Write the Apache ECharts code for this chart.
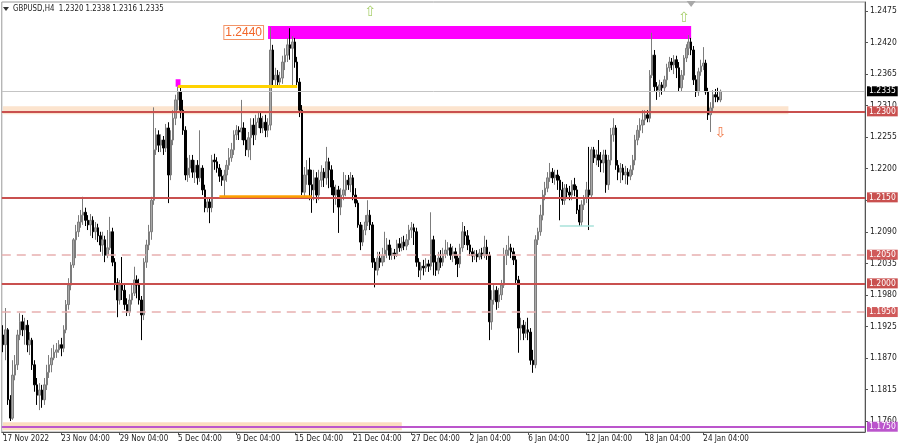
<!DOCTYPE html>
<html><head><meta charset="utf-8">
<script src="https://cdn.jsdelivr.net/npm/echarts@6/dist/echarts.min.js"></script>
<style>html,body{margin:0;padding:0;background:#fff}#c{width:900px;height:444px}</style>
</head><body><div id="c"></div>
<script>
// ---- data (GBPUSD H4) ----
const symbolName = 'GBPUSD,H4';
const tickLabels = ["17 Nov 2022","23 Nov 04:00","29 Nov 04:00","5 Dec 04:00","9 Dec 04:00","15 Dec 04:00","21 Dec 04:00","27 Dec 04:00","2 Jan 04:00","6 Jan 04:00","12 Jan 04:00","18 Jan 04:00","24 Jan 04:00"];
const barsPerLabel = 24;
const totalSlots = 355;

const opens = [1.1910,1.1893,1.1919,1.1797,1.1765,1.1840,1.1858,1.1910,1.1933,1.1919,
1.1927,1.1893,1.1901,1.1858,1.1823,1.1805,1.1814,1.1797,1.1823,1.1845,
1.1858,1.1870,1.1880,1.1884,1.1893,1.1887,1.1919,1.1963,1.1997,1.2032,
1.2076,1.2090,1.2107,1.2119,1.2124,1.2110,1.2102,1.2110,1.2090,1.2097,
1.2083,1.2067,1.2076,1.2049,1.2062,1.2090,1.2037,1.2001,1.1971,1.1997,
1.1988,1.1963,1.1950,1.1971,1.1983,1.2006,1.1997,1.1971,1.1945,1.2037,
1.2067,1.2090,1.2145,1.2233,1.2259,1.2241,1.2250,1.2236,1.2271,1.2189,
1.2250,1.2288,1.2320,1.2334,1.2302,1.2267,1.2189,1.2201,1.2215,1.2194,
1.2206,1.2184,1.2201,1.2163,1.2132,1.2142,1.2132,1.2215,1.2212,1.2201,
1.2187,1.2180,1.2189,1.2206,1.2219,1.2233,1.2259,1.2267,1.2264,1.2271,
1.2250,1.2233,1.2254,1.2276,1.2259,1.2281,1.2288,1.2271,1.2281,1.2267,
1.2276,1.2407,1.2355,1.2363,1.2351,1.2358,1.2386,1.2398,1.2416,1.2410,
1.2421,1.2386,1.2351,1.2302,1.2159,1.2189,1.2198,1.2172,1.2163,1.2184,
1.2154,1.2180,1.2194,1.2184,1.2212,1.2198,1.2168,1.2154,1.2163,1.2133,
1.2154,1.2163,1.2180,1.2172,1.2184,1.2154,1.2140,1.2102,1.2072,1.2093,
1.2107,1.2119,1.2102,1.2037,1.2023,1.2044,1.2037,1.2049,1.2058,1.2067,
1.2049,1.2053,1.2049,1.2069,1.2062,1.2072,1.2065,1.2076,1.2093,1.2097,
1.2090,1.2037,1.2023,1.2030,1.2027,1.2034,1.2030,1.2076,1.2037,1.2023,
1.2044,1.2037,1.2051,1.2058,1.2062,1.2049,1.2055,1.2044,1.2034,1.2062,
1.2090,1.2083,1.2067,1.2055,1.2048,1.2051,1.2046,1.2053,1.2049,1.2063,
1.2049,1.1933,1.1971,1.1988,1.1968,1.1980,1.1997,1.2049,1.2058,1.2062,
1.2055,1.2041,1.2006,1.1922,1.1927,1.1913,1.1919,1.1915,1.1866,1.1858,
1.2076,1.2090,1.2119,1.2154,1.2166,1.2184,1.2194,1.2184,1.2189,1.2180,
1.2163,1.2145,1.2166,1.2159,1.2154,1.2172,1.2163,1.2128,1.2107,1.2137,
1.2149,1.2163,1.2154,1.2233,1.2219,1.2224,1.2215,1.2210,1.2224,1.2172,
1.2215,1.2259,1.2271,1.2206,1.2194,1.2201,1.2189,1.2194,1.2187,1.2198,
1.2215,1.2250,1.2267,1.2276,1.2285,1.2294,1.2288,1.2363,1.2398,1.2343,
1.2337,1.2346,1.2341,1.2355,1.2376,1.2386,1.2381,1.2390,1.2376,1.2341,
1.2363,1.2393,1.2410,1.2421,1.2407,1.2355,1.2334,1.2369,1.2379,1.2384,
1.2334,1.2294,1.2306,1.2329,1.2325,1.2320];

const closes = [1.1893,1.1919,1.1797,1.1765,1.1840,1.1858,1.1910,1.1933,1.1919,1.1927,
1.1893,1.1901,1.1858,1.1823,1.1805,1.1814,1.1797,1.1823,1.1845,1.1858,
1.1870,1.1880,1.1884,1.1893,1.1887,1.1919,1.1963,1.1997,1.2032,1.2076,
1.2090,1.2107,1.2119,1.2124,1.2110,1.2102,1.2110,1.2090,1.2097,1.2083,
1.2067,1.2076,1.2049,1.2062,1.2090,1.2037,1.2001,1.1971,1.1997,1.1988,
1.1963,1.1950,1.1971,1.1983,1.2006,1.1997,1.1971,1.1945,1.2037,1.2067,
1.2090,1.2145,1.2233,1.2259,1.2241,1.2250,1.2236,1.2271,1.2189,1.2250,
1.2288,1.2320,1.2334,1.2302,1.2267,1.2189,1.2201,1.2215,1.2194,1.2206,
1.2184,1.2201,1.2163,1.2132,1.2142,1.2132,1.2215,1.2212,1.2201,1.2187,
1.2180,1.2189,1.2206,1.2219,1.2233,1.2259,1.2267,1.2264,1.2271,1.2250,
1.2233,1.2254,1.2276,1.2259,1.2281,1.2288,1.2271,1.2281,1.2267,1.2276,
1.2407,1.2355,1.2363,1.2351,1.2358,1.2386,1.2398,1.2416,1.2410,1.2421,
1.2386,1.2351,1.2302,1.2159,1.2189,1.2198,1.2172,1.2163,1.2184,1.2154,
1.2180,1.2194,1.2184,1.2212,1.2198,1.2168,1.2154,1.2163,1.2133,1.2154,
1.2163,1.2180,1.2172,1.2184,1.2154,1.2140,1.2102,1.2072,1.2093,1.2107,
1.2119,1.2102,1.2037,1.2023,1.2044,1.2037,1.2049,1.2058,1.2067,1.2049,
1.2053,1.2049,1.2069,1.2062,1.2072,1.2065,1.2076,1.2093,1.2097,1.2090,
1.2037,1.2023,1.2030,1.2027,1.2034,1.2030,1.2076,1.2037,1.2023,1.2044,
1.2037,1.2051,1.2058,1.2062,1.2049,1.2055,1.2044,1.2034,1.2062,1.2090,
1.2083,1.2067,1.2055,1.2048,1.2051,1.2046,1.2053,1.2049,1.2063,1.2049,
1.1933,1.1971,1.1988,1.1968,1.1980,1.1997,1.2049,1.2058,1.2062,1.2055,
1.2041,1.2006,1.1922,1.1927,1.1913,1.1919,1.1915,1.1866,1.1858,1.2076,
1.2090,1.2119,1.2154,1.2166,1.2184,1.2194,1.2184,1.2189,1.2180,1.2163,
1.2145,1.2166,1.2159,1.2154,1.2172,1.2163,1.2128,1.2107,1.2137,1.2149,
1.2163,1.2154,1.2233,1.2219,1.2224,1.2215,1.2210,1.2224,1.2172,1.2215,
1.2259,1.2271,1.2206,1.2194,1.2201,1.2189,1.2194,1.2187,1.2198,1.2215,
1.2250,1.2267,1.2276,1.2285,1.2294,1.2288,1.2363,1.2398,1.2343,1.2337,
1.2346,1.2341,1.2355,1.2376,1.2386,1.2381,1.2390,1.2376,1.2341,1.2363,
1.2393,1.2410,1.2421,1.2407,1.2355,1.2334,1.2369,1.2379,1.2384,1.2334,
1.2294,1.2306,1.2329,1.2325,1.2320,1.2335];

const highs = [1.1927,1.1957,1.1922,1.1805,1.1866,1.1875,1.1919,1.1948,1.1945,1.1940,
1.1936,1.1915,1.1905,1.1866,1.1835,1.1826,1.1823,1.1835,1.1858,1.1875,
1.1887,1.1893,1.1896,1.1901,1.1905,1.1927,1.1971,1.2009,1.2037,1.2079,
1.2102,1.2119,1.2128,1.2151,1.2132,1.2119,1.2121,1.2117,1.2107,1.2104,
1.2090,1.2090,1.2083,1.2093,1.2116,1.2097,1.2044,1.2009,1.2006,1.2046,
1.1999,1.1974,1.1981,1.1997,1.2029,1.2014,1.2008,1.1978,1.2044,1.2076,
1.2102,1.2151,1.2307,1.2271,1.2267,1.2260,1.2257,1.2278,1.2281,1.2267,
1.2302,1.2329,1.2343,1.2341,1.2320,1.2274,1.2219,1.2224,1.2224,1.2215,
1.2215,1.2267,1.2206,1.2172,1.2149,1.2149,1.2224,1.2226,1.2220,1.2208,
1.2198,1.2198,1.2215,1.2236,1.2245,1.2267,1.2276,1.2274,1.2320,1.2281,
1.2271,1.2264,1.2288,1.2288,1.2294,1.2299,1.2297,1.2292,1.2294,1.2288,
1.2447,1.2416,1.2376,1.2372,1.2369,1.2397,1.2410,1.2428,1.2445,1.2431,
1.2428,1.2395,1.2358,1.2311,1.2203,1.2215,1.2219,1.2198,1.2198,1.2194,
1.2198,1.2206,1.2201,1.2238,1.2219,1.2206,1.2180,1.2172,1.2170,1.2166,
1.2194,1.2189,1.2189,1.2194,1.2189,1.2166,1.2145,1.2107,1.2102,1.2119,
1.2145,1.2128,1.2107,1.2044,1.2055,1.2055,1.2062,1.2090,1.2079,1.2076,
1.2062,1.2060,1.2076,1.2079,1.2081,1.2083,1.2086,1.2102,1.2107,1.2104,
1.2097,1.2044,1.2037,1.2041,1.2044,1.2041,1.2124,1.2083,1.2049,1.2055,
1.2058,1.2062,1.2076,1.2072,1.2069,1.2065,1.2062,1.2049,1.2069,1.2107,
1.2100,1.2093,1.2076,1.2062,1.2058,1.2058,1.2060,1.2062,1.2083,1.2076,
1.2055,1.1988,1.1997,1.1995,1.1992,1.2006,1.2062,1.2067,1.2083,1.2069,
1.2062,1.2048,1.2013,1.1940,1.1936,1.1933,1.1940,1.1922,1.1884,1.2084,
1.2097,1.2137,1.2163,1.2177,1.2194,1.2210,1.2201,1.2198,1.2198,1.2187,
1.2177,1.2173,1.2173,1.2170,1.2180,1.2184,1.2170,1.2137,1.2145,1.2154,
1.2177,1.2238,1.2238,1.2238,1.2233,1.2250,1.2229,1.2233,1.2233,1.2224,
1.2271,1.2288,1.2276,1.2215,1.2210,1.2208,1.2205,1.2201,1.2206,1.2224,
1.2259,1.2276,1.2288,1.2302,1.2302,1.2302,1.2372,1.2437,1.2407,1.2351,
1.2355,1.2351,1.2362,1.2383,1.2395,1.2393,1.2398,1.2397,1.2386,1.2372,
1.2398,1.2417,1.2433,1.2428,1.2414,1.2363,1.2376,1.2390,1.2412,1.2390,
1.2341,1.2316,1.2337,1.2339,1.2341,1.2338];

const lows = [1.1880,1.1866,1.1788,1.1760,1.1762,1.1831,1.1849,1.1901,1.1908,1.1893,
1.1880,1.1875,1.1849,1.1811,1.1788,1.1779,1.1783,1.1788,1.1814,1.1835,
1.1845,1.1866,1.1870,1.1879,1.1873,1.1880,1.1913,1.1954,1.1988,1.2027,
1.2044,1.2081,1.2097,1.2102,1.2100,1.2093,1.2083,1.2079,1.2076,1.2072,
1.2055,1.2048,1.2037,1.2044,1.2058,1.2030,1.1988,1.1941,1.1963,1.1971,
1.1954,1.1943,1.1943,1.1963,1.1978,1.1974,1.1963,1.1901,1.1936,1.2027,
1.2058,1.2076,1.2137,1.2224,1.2229,1.2229,1.2224,1.2229,1.2140,1.2180,
1.2241,1.2276,1.2302,1.2288,1.2259,1.2180,1.2177,1.2184,1.2184,1.2175,
1.2172,1.2177,1.2154,1.2124,1.2124,1.2105,1.2124,1.2198,1.2193,1.2177,
1.2170,1.2151,1.2177,1.2198,1.2212,1.2224,1.2250,1.2250,1.2250,1.2241,
1.2222,1.2220,1.2215,1.2241,1.2250,1.2271,1.2262,1.2262,1.2255,1.2255,
1.2267,1.2346,1.2344,1.2343,1.2343,1.2348,1.2372,1.2386,1.2390,1.2343,
1.2376,1.2343,1.2290,1.2154,1.2152,1.2172,1.2145,1.2123,1.2145,1.2140,
1.2145,1.2168,1.2168,1.2172,1.2166,1.2154,1.2123,1.2137,1.2088,1.2119,
1.2145,1.2152,1.2163,1.2159,1.2145,1.2133,1.2097,1.2058,1.2065,1.2084,
1.2100,1.2093,1.2027,1.1993,1.2014,1.2027,1.2030,1.2037,1.2044,1.2041,
1.2041,1.2042,1.2046,1.2055,1.2056,1.2058,1.2058,1.2067,1.2079,1.2067,
1.2029,1.2011,1.2006,1.2014,1.2020,1.2020,1.2023,1.2014,1.2013,1.2016,
1.2027,1.2030,1.2044,1.2048,1.2041,1.2037,1.2032,1.2011,1.2027,1.2055,
1.2067,1.2058,1.2048,1.2037,1.2041,1.2037,1.2041,1.2042,1.2044,1.2041,
1.1901,1.1919,1.1963,1.1954,1.1957,1.1971,1.1992,1.2032,1.2048,1.2044,
1.2032,1.1999,1.1879,1.1901,1.1901,1.1905,1.1901,1.1858,1.1844,1.1852,
1.2067,1.2083,1.2110,1.2145,1.2159,1.2177,1.2175,1.2172,1.2163,1.2110,
1.2137,1.2137,1.2149,1.2145,1.2145,1.2152,1.2121,1.2100,1.2100,1.2128,
1.2140,1.2093,1.2149,1.2210,1.2206,1.2203,1.2194,1.2193,1.2158,1.2163,
1.2206,1.2247,1.2198,1.2180,1.2175,1.2180,1.2173,1.2172,1.2180,1.2189,
1.2206,1.2241,1.2254,1.2262,1.2276,1.2281,1.2281,1.2358,1.2334,1.2320,
1.2325,1.2329,1.2334,1.2343,1.2369,1.2372,1.2365,1.2358,1.2335,1.2334,
1.2355,1.2386,1.2398,1.2398,1.2346,1.2325,1.2327,1.2362,1.2372,1.2329,
1.2285,1.2264,1.2299,1.2316,1.2316,1.2316];

// axis / level values
const yMin = 1.17408, yMax = 1.24907;
const yTicks = [1.1760,1.1815,1.1870,1.1925,1.1980,1.2035,1.2090,1.2145,1.2200,1.2255,1.2310,1.2365,1.2420,1.2475];
const solidLevels = [1.2300, 1.2150, 1.2000];
const dashedLevels = [1.2050, 1.1950];
const purpleLevel = 1.1750;
const bidPrice = 1.2335;
const supplyZone = {from: 109, to: 283, top: 1.2449, bottom: 1.2426, text: '1.2440'};
const smallZone = {from: 71, to: 73, top: 1.2356, bottom: 1.2343};
const band1 = {from: 0, to: 323, top: 1.2309, bottom: 1.2295};
const band2 = {from: 0, to: 164, top: 1.1758, bottom: 1.1744};
const yellowSeg = {from: 72, to: 121, price: 1.2344};
const orangeSeg = {from: 89, to: 127, price: 1.2152};
const cyanSeg = {from: 229, to: 243, price: 1.2100};
const upArrows = [[151, 1.2472], [280, 1.2462]];
const downArrows = [[295, 1.2262]];

// ---- chart ----
const FONT = "'Liberation Sans Narrow','DejaVu Sans Condensed','Liberation Sans',sans-serif";
const cats = Array.from({length: totalSlots}, (_, i) => String(i));
const isLabelIdx = (i) => i % barsPerLabel === 0 && (i / barsPerLabel) < tickLabels.length;
const candles = opens.map((o, i) => [o, closes[i], lows[i], highs[i]]);

const lvlLabel = (txt, bg) => ({show: true, position: 'end', distance: 2, formatter: txt,
  color: '#fff', backgroundColor: bg, padding: [1, 2, 0, 2], fontSize: 8.5, fontFamily: FONT, lineHeight: 9});
const seg = (s, color, width) => {
  const st = {lineStyle: {color, width, type: 'solid'}, label: {show: false}};
  return [Object.assign({coord: [s.from, s.price]}, st), Object.assign({coord: [s.to, s.price]}, st)];
};
const area = (z, style, label) => [
  Object.assign({coord: [z.from, z.top], itemStyle: style}, label ? {label} : {label: {show: false}}),
  {coord: [z.to, z.bottom], itemStyle: style}
];

const last = opens.length - 1;
const header = `${symbolName}  ${opens[last].toFixed(4)} ${highs[last].toFixed(4)} ${lows[last].toFixed(4)} ${closes[last].toFixed(4)}`;

const chart = echarts.init(document.getElementById('c'), null, {renderer: 'canvas'});
chart.setOption({
  animation: false,
  backgroundColor: '#ffffff',
  grid: {left: 1, right: 35, top: 2, bottom: 12, show: true, borderColor: '#9a9a9a', borderWidth: 1},
  xAxis: {
    type: 'category', data: cats, boundaryGap: true,
    axisLine: {show: true, lineStyle: {color: '#555'}},
    axisTick: {show: true, alignWithLabel: true, length: 3, interval: (i) => isLabelIdx(i), lineStyle: {color: '#555'}},
    axisLabel: {interval: (i) => isLabelIdx(i), formatter: (v, i) => tickLabels[Number(v) / barsPerLabel] || '',
      align: 'left', color: '#222', fontSize: 8, margin: 3, fontFamily: FONT},
    splitLine: {show: false}
  },
  yAxis: {
    type: 'value', position: 'right', min: yMin, max: yMax, scale: true,
    axisLine: {show: true, lineStyle: {color: '#555'}},
    axisTick: {show: true, length: 3, customValues: yTicks, lineStyle: {color: '#555'}},
    axisLabel: {customValues: yTicks, formatter: (v) => v.toFixed(4), color: '#222', fontSize: 8.5, margin: 5, fontFamily: FONT},
    splitLine: {show: false}
  },
  graphic: [
    {type: 'polygon', shape: {points: [[3, 7], [9, 7], [6, 11]]}, style: {fill: '#333'}, z: 100},
    {type: 'text', x: 13, y: 4, scaleX: 0.82, z: 100, style: {text: header, fill: '#222', font: '9.5px ' + FONT}}
  ],
  series: [{
    type: 'candlestick',
    data: candles,
    barWidth: 2,
    itemStyle: {color: '#a9a9a9', color0: '#000000', borderColor: '#7c7c7c', borderColor0: '#000000', borderWidth: 1},
    markArea: {
      silent: true,
      data: [
        area(band1, {color: 'rgba(250,205,165,0.55)'}),
        area(band2, {color: 'rgba(250,205,165,0.7)'}),
        area(supplyZone, {color: '#ff00ff'}, {show: true, position: 'left', distance: 5, formatter: supplyZone.text,
          color: '#f2662a', fontSize: 12, fontFamily: "'Liberation Sans',sans-serif", backgroundColor: '#fff',
          borderColor: '#f29468', borderWidth: 1, padding: [1, 1, 0, 1]}),
        area(smallZone, {color: '#ff00ff'})
      ]
    },
    markLine: {
      silent: true, symbol: ['none', 'none'], precision: 4,
      data: [
        {yAxis: bidPrice, lineStyle: {color: '#c4c4c4', width: 1, type: 'solid'}, label: lvlLabel(bidPrice.toFixed(4), '#000')},
        ...solidLevels.map(v => ({yAxis: v, lineStyle: {color: '#c9504f', width: 2, type: 'solid'}, label: lvlLabel(v.toFixed(4), '#c9504f')})),
        ...dashedLevels.map(v => ({yAxis: v, lineStyle: {color: '#e8b0b0', width: 1.5, type: [9, 6]}, label: lvlLabel(v.toFixed(4), '#d05a5a')})),
        {yAxis: purpleLevel, lineStyle: {color: '#bb55cc', width: 2, type: 'solid'}, label: lvlLabel(purpleLevel.toFixed(4), '#bb55cc')},
        seg(yellowSeg, '#ffd200', 3),
        seg(orangeSeg, '#ffa000', 2.5),
        seg(cyanSeg, '#a8e2da', 1.5)
      ]
    },
    markPoint: {
      silent: true,
      data: [
        ...upArrows.map(a => ({coord: a, symbol: 'circle', symbolSize: 1, itemStyle: {color: 'rgba(0,0,0,0)'},
          label: {show: true, position: 'inside', formatter: '\u21E7', color: '#a8cf6c', fontSize: 14, fontFamily: 'DejaVu Sans'}})),
        ...downArrows.map(a => ({coord: a, symbol: 'circle', symbolSize: 1, itemStyle: {color: 'rgba(0,0,0,0)'},
          label: {show: true, position: 'inside', formatter: '\u21E9', color: '#f07a4a', fontSize: 14, fontFamily: 'DejaVu Sans'}})),
        {coord: [283, yMax], symbol: 'triangle', symbolRotate: 180, symbolSize: [9, 6], symbolOffset: [0, 2],
          itemStyle: {color: '#a8a8a8'}, label: {show: false}}
      ]
    }
  }]
});
</script>
</body></html>
